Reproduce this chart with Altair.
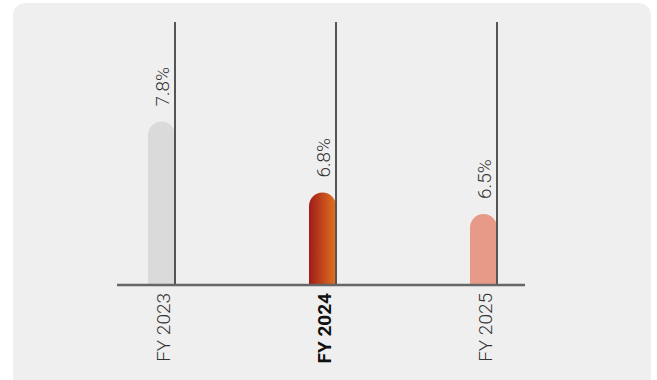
import altair as alt
import pandas as pd

# Fiscal-year figures
years = ["FY 2023", "FY 2024", "FY 2025"]
rates = [7.8, 6.8, 6.5]
labels = ["7.8%", "6.8%", "6.5%"]

df = pd.DataFrame({"year": years, "rate": rates, "label": labels})

W, H = 483, 263
Y_MIN, Y_MAX = 5.5, 9.2
FONT = "Roboto"
HIGHLIGHT = "datum.year == 'FY 2024'"

x = alt.X("year:N", sort=years, axis=None,
          scale=alt.Scale(paddingInner=0, paddingOuter=0))
y_scale = alt.Scale(domain=[Y_MIN, Y_MAX], nice=False, zero=False)
y = alt.Y("rate:Q", axis=None, scale=y_scale)

# rounded light panel behind everything
panel = alt.Chart(pd.DataFrame({"p": [0]})).mark_rect(
    color="#efefef", cornerRadius=12
).encode(
    x=alt.value(-68), x2=alt.value(570),
    y=alt.value(-19), y2=alt.value(H + 120),
)

base = alt.Chart(df).transform_calculate(floor=str(Y_MIN))

plain_bars = base.transform_filter("!(" + HIGHLIGHT + ")").mark_bar(
    size=27, cornerRadiusTopLeft=13.5, cornerRadiusTopRight=13.5
).encode(
    x=x,
    y=y,
    y2="floor:Q",
    color=alt.Color("year:N", legend=None,
                    scale=alt.Scale(domain=["FY 2023", "FY 2025"],
                                    range=["#dadada", "#e89a88"])),
)

highlight_bar = base.transform_filter(HIGHLIGHT).mark_bar(
    size=27, cornerRadiusTopLeft=13.5, cornerRadiusTopRight=13.5,
    color=alt.Gradient(
        gradient="linear",
        stops=[alt.GradientStop(color="#a01c1a", offset=0),
               alt.GradientStop(color="#e2731f", offset=1)],
        x1=0, x2=1, y1=0, y2=0,
    ),
).encode(
    x=x,
    y=y,
    y2="floor:Q",
)

# thin vertical guide at the right edge of each bar
guides = base.mark_rule(color="#555555", strokeWidth=2, xOffset=13.5).encode(
    x=x,
    y=alt.value(0),
    y2=alt.value(H),
)

baseline = alt.Chart(pd.DataFrame({"b": [0]})).mark_rule(
    color="#666666", strokeWidth=2.5
).encode(
    x=alt.value(36), x2=alt.value(444),
    y=alt.value(H),
)

value_text = base.mark_text(
    angle=270, align="left", baseline="middle", font=FONT, fontSize=19,
    fontWeight=300, color="#333333", yOffset=-15, xOffset=1,
).encode(
    x=x,
    y=y,
    text="label:N",
)

year_plain = base.transform_filter("!(" + HIGHLIGHT + ")").mark_text(
    angle=270, align="right", baseline="middle", font=FONT, fontSize=19,
    fontWeight=300, color="#333333", xOffset=2,
).encode(
    x=x,
    y=alt.value(H + 8),
    text="year:N",
)

year_bold = base.transform_filter(HIGHLIGHT).mark_text(
    angle=270, align="right", baseline="middle", font=FONT, fontSize=19,
    fontWeight="bold", color="#111111", xOffset=2,
).encode(
    x=x,
    y=alt.value(H + 8),
    text="year:N",
)

chart = alt.layer(
    panel, plain_bars, highlight_bar, guides, baseline,
    value_text, year_plain, year_bold
).properties(
    width=W, height=H,
    autosize=alt.AutoSizeParams(type="none"),
    padding={"left": 81, "top": 22, "right": 93, "bottom": 95},
    background="white",
).configure_view(stroke=None)

chart.save("out.html", embed_options={"renderer": "svg", "actions": False})
